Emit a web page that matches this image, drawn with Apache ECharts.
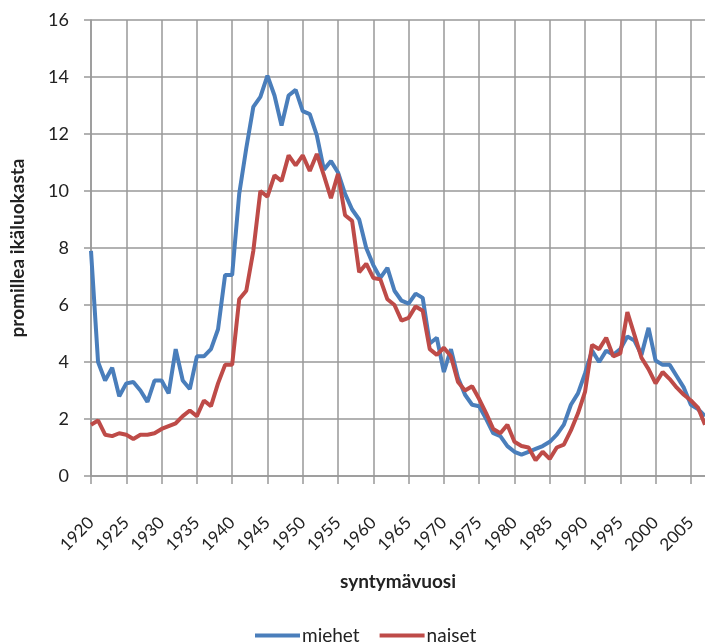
<!DOCTYPE html>
<html>
<head>
<meta charset="utf-8">
<script src="https://cdn.jsdelivr.net/npm/echarts@6/dist/echarts.min.js"></script>
<style>
  html, body { margin: 0; padding: 0; background: #fff; }
  #chart { width: 705px; height: 642px; }
</style>
</head>
<body>
<div id="chart"></div>
<script>
// syntymävuodet 1920–2007
const years = [
  '1920','1921','1922','1923','1924','1925','1926','1927','1928','1929',
  '1930','1931','1932','1933','1934','1935','1936','1937','1938','1939',
  '1940','1941','1942','1943','1944','1945','1946','1947','1948','1949',
  '1950','1951','1952','1953','1954','1955','1956','1957','1958','1959',
  '1960','1961','1962','1963','1964','1965','1966','1967','1968','1969',
  '1970','1971','1972','1973','1974','1975','1976','1977','1978','1979',
  '1980','1981','1982','1983','1984','1985','1986','1987','1988','1989',
  '1990','1991','1992','1993','1994','1995','1996','1997','1998','1999',
  '2000','2001','2002','2003','2004','2005','2006','2007'
];

const miehet = [
  7.9, 4.0, 3.35, 3.8, 2.8, 3.25, 3.3, 3.0, 2.6, 3.35,
  3.35, 2.9, 4.45, 3.35, 3.05, 4.2, 4.2, 4.45, 5.15, 7.05,
  7.05, 9.9, 11.5, 12.95, 13.3, 14.05, 13.35, 12.3, 13.35, 13.55,
  12.8, 12.7, 11.95, 10.75, 11.05, 10.65, 9.9, 9.35, 9.0, 8.0,
  7.4, 6.95, 7.3, 6.5, 6.15, 6.05, 6.4, 6.25, 4.65, 4.85,
  3.65, 4.45, 3.45, 2.85, 2.5, 2.45, 2.0, 1.5, 1.4, 1.05,
  0.85, 0.75, 0.85, 0.95, 1.05, 1.2, 1.45, 1.8, 2.5, 2.9,
  3.6, 4.4, 4.0, 4.4, 4.25, 4.45, 4.9, 4.75, 4.25, 5.2,
  4.05, 3.9, 3.9, 3.5, 3.1, 2.5, 2.35, 2.1
];

const naiset = [
  1.8, 1.95, 1.45, 1.4, 1.5, 1.45, 1.3, 1.45, 1.45, 1.5,
  1.65, 1.75, 1.85, 2.1, 2.3, 2.1, 2.65, 2.45, 3.25, 3.9,
  3.9, 6.2, 6.5, 7.9, 10.0, 9.8, 10.55, 10.35, 11.25, 10.9,
  11.25, 10.7, 11.3, 10.55, 9.75, 10.6, 9.15, 8.95, 7.15, 7.45,
  6.95, 6.9, 6.2, 6.0, 5.45, 5.55, 5.95, 5.8, 4.45, 4.25,
  4.5, 4.2, 3.3, 3.0, 3.15, 2.7, 2.2, 1.65, 1.5, 1.8,
  1.2, 1.05, 1.0, 0.55, 0.85, 0.6, 1.0, 1.1, 1.6, 2.2,
  2.95, 4.6, 4.45, 4.85, 4.2, 4.3, 5.75, 4.95, 4.15, 3.75,
  3.25, 3.65, 3.4, 3.1, 2.85, 2.65, 2.4, 1.8
];

const gridColor = '#999';
const textColor = '#222';
const font = 'Lato, "Liberation Sans", sans-serif';

const chart = echarts.init(document.getElementById('chart'));

chart.setOption({
  backgroundColor: '#fff',
  animation: false,
  textStyle: { fontFamily: font },
  grid: { left: 85, right: 0, top: 20, bottom: 166, containLabel: false },
  legend: {
    left: 250,
    top: 621,
    icon: 'rect',
    itemWidth: 45,
    itemHeight: 4,
    itemGap: 20,
    textStyle: { fontSize: 19, color: textColor, fontFamily: font, padding: [0, 0, 0, -3] },
    data: ['miehet', 'naiset']
  },
  xAxis: {
    type: 'category',
    data: years,
    boundaryGap: false,
    name: 'syntymävuosi',
    nameLocation: 'middle',
    nameGap: 96,
    nameTextStyle: { fontSize: 19, fontWeight: 'bold', color: textColor, fontFamily: font },
    axisLine: { lineStyle: { color: gridColor, width: 1.5 } },
    axisTick: { show: true, interval: 4, length: 8, lineStyle: { color: gridColor, width: 1.5 } },
    axisLabel: { interval: 4, rotate: 45, margin: 44, fontSize: 17, color: textColor, fontFamily: font },
    splitLine: { show: true, interval: 4, lineStyle: { color: gridColor, width: 1.5 } }
  },
  yAxis: {
    type: 'value',
    min: 0,
    max: 16,
    interval: 2,
    name: 'promillea ikäluokasta',
    nameLocation: 'middle',
    nameGap: 64,
    nameTextStyle: { fontSize: 19, fontWeight: 'bold', color: textColor, fontFamily: font },
    axisLine: { show: true, lineStyle: { color: gridColor, width: 1.5 } },
    axisTick: { show: true, length: 7, lineStyle: { color: gridColor, width: 1.5 } },
    axisLabel: { margin: 22, fontSize: 18, color: textColor, fontFamily: font },
    splitLine: { show: true, lineStyle: { color: gridColor, width: 1.5 } }
  },
  series: [
    {
      name: 'miehet',
      type: 'line',
      data: miehet,
      showSymbol: false,
      color: '#4A7EBB',
      lineStyle: { width: 4, color: '#4A7EBB' }
    },
    {
      name: 'naiset',
      type: 'line',
      data: naiset,
      showSymbol: false,
      color: '#BE4B48',
      lineStyle: { width: 4, color: '#BE4B48' }
    }
  ]
});
</script>
</body>
</html>
